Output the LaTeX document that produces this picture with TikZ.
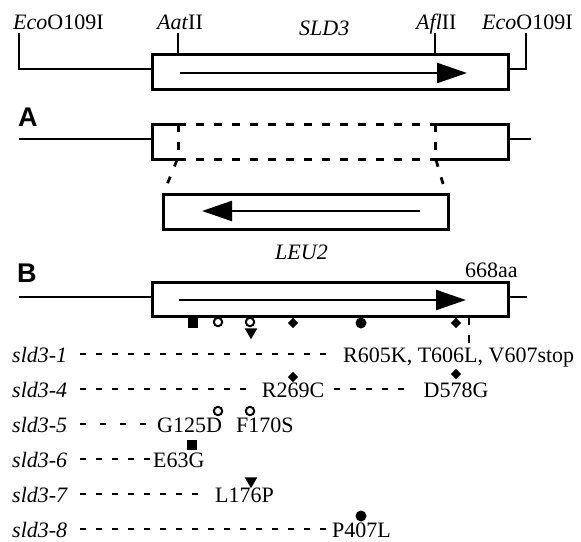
\documentclass[tikz,border=0pt]{standalone}
\usepackage{fontspec}
\setmainfont{Liberation Serif}
\newfontfamily\panelfont{Liberation Sans}
\usetikzlibrary{arrows.meta,shapes.geometric}
\begin{document}
\begin{tikzpicture}[x=1pt,y=-1pt,
  boxline/.style={line width=3pt, line join=miter},
  thinline/.style={line width=2.2pt},
  shaft/.style={line width=2.2pt, -{Triangle[length=30pt,width=20pt]}},
  rowdash/.style={line width=1.4pt, dash pattern=on 6pt off 10pt},
  boxdash/.style={line width=3pt, dash pattern=on 8pt off 10pt},
  lbl/.style={inner sep=0pt, anchor=base west, font=\fontsize{22}{26}\selectfont},
  clbl/.style={inner sep=0pt, anchor=base, font=\fontsize{22}{26}\selectfont},
  panel/.style={inner sep=0pt, anchor=base west, font=\panelfont\bfseries\fontsize{27}{30}\selectfont},
  sqmark/.style={rectangle, fill=black, inner sep=0pt, minimum size=10pt},
  ocirc/.style={circle, draw=black, line width=2pt, fill=white, inner sep=0pt, minimum size=8.4pt},
  fcirc/.style={circle, fill=black, inner sep=0pt, minimum size=11pt},
  dmark/.style={diamond, fill=black, inner sep=0pt, minimum width=10.5pt, minimum height=10.5pt},
  tmark/.style={regular polygon, regular polygon sides=3, shape border rotate=180, fill=black, inner sep=0pt, minimum size=14.5pt}
]
\useasboundingbox (0,0) rectangle (581,541);

% ---------- top: SLD3 locus ----------
\node[lbl] (ecoL) at (13,29) {\textit{Eco}O109I};
\node[lbl] (aat) at (157,29) {\textit{Aat}II};
\node[lbl] (sldlbl) at (299,35) {\textit{SLD3}};
\node[lbl] (afl) at (416,29) {\textit{Afl}II};
\node[lbl] (ecoR) at (482,29) {\textit{Eco}O109I};

\draw[thinline] (19,33) -- (19,69) -- (152,69);
\draw[thinline] (508,69) -- (526,69) -- (526,33);
\draw[thinline] (178,33) -- (178,54);
\draw[thinline] (435,33) -- (435,54);
\draw[boxline] (152,54) rectangle (508,89);
\coordinate (t1) at (180,73);
\coordinate (t2) at (467,73);
\draw[shaft] (t1) -- (t2);

% ---------- A: disruption ----------
\node[panel] (A) at (18,126) {A};
\draw[thinline] (19,139) -- (152,139);
\draw[thinline] (508,139) -- (531,139);
\draw[boxline] (178,124) -- (152,124) -- (152,159) -- (178,159);
\draw[boxline] (435,124) -- (508,124) -- (508,159) -- (435,159);
\draw[boxdash] (178,124) -- (435,124);
\draw[boxdash] (178,159) -- (435,159);
\draw[boxdash] (178,124) -- (178,159);
\draw[boxdash] (435,124) -- (435,159);
\draw[line width=2.8pt, dash pattern=on 7pt off 11pt] (177,160) -- (166,187);
\draw[line width=2.8pt, dash pattern=on 7pt off 11pt] (436,160) -- (444,187);

\draw[boxline] (163,194) rectangle (448,229);
\coordinate (l1) at (420,211);
\coordinate (l2) at (202,211);
\draw[shaft] (l1) -- (l2);
\node[lbl] (leu) at (275,259) {\textit{LEU2}};

% ---------- B: mutations ----------
\node[panel] (B) at (17,282) {B};
\node[lbl] (aa) at (465,277) {668aa};
\draw[thinline] (19,297) -- (152,297);
\draw[thinline] (508,297) -- (527,297);
\draw[boxline] (152,282) rectangle (508,316);
\coordinate (b1) at (179,300);
\coordinate (b2) at (466,300);
\draw[shaft] (b1) -- (b2);

\node[sqmark] (m1) at (193,323) {};
\node[ocirc] (m2) at (218,322) {};
\node[ocirc] (m3) at (250,322) {};
\node[tmark] (m4) at (251,332) {};
\node[dmark] (m5) at (293,323) {};
\node[fcirc] (m6) at (361,323) {};
\node[dmark] (m7) at (456,323) {};
\draw[line width=1.8pt, dash pattern=on 8pt off 10pt] (469,317) -- (469,345);

% rows
\node[lbl, font=\itshape\fontsize{22}{26}\selectfont] (r1) at (12,362) {sld3-1};
\node[lbl, font=\itshape\fontsize{22}{26}\selectfont] (r4) at (12,397) {sld3-4};
\node[lbl, font=\itshape\fontsize{22}{26}\selectfont] (r5) at (12,432) {sld3-5};
\node[lbl, font=\itshape\fontsize{22}{26}\selectfont] (r6) at (12,467) {sld3-6};
\node[lbl, font=\itshape\fontsize{22}{26}\selectfont] (r7) at (12,502) {sld3-7};
\node[lbl, font=\itshape\fontsize{22}{26}\selectfont] (r8) at (12,537) {sld3-8};

% sld3-1
\draw[rowdash] (80,354) -- (328,354);
\node[lbl] (t11) at (343,362) {R605K, T606L, V607stop};
% sld3-4
\draw[rowdash] (80,389) -- (247,389);
\node[clbl] (t41) at (293,397) {R269C};
\draw[rowdash] (334,389) -- (410,389);
\node[clbl] (t42) at (456,397) {D578G};
\node[dmark] (d41) at (293,377) {};
\node[dmark] (d42) at (456,374) {};
% sld3-5
\draw[rowdash, dash pattern=on 6pt off 14pt] (80,424) -- (147,424);
\node[lbl] (t51) at (157,432) {G125D};
\node[lbl] (t52) at (236,432) {F170S};
\node[ocirc] (c51) at (218,411) {};
\node[ocirc] (c52) at (250,411) {};
% sld3-6
\draw[rowdash] (80,459) -- (152,459);
\node[lbl] (t61) at (153,467) {E63G};
\node[sqmark] (s61) at (192,445) {};
% sld3-7
\draw[rowdash] (80,494) -- (203,494);
\node[lbl] (t71) at (215,502) {L176P};
\node[tmark] (tr71) at (251,481) {};
% sld3-8
\draw[rowdash] (80,529) -- (326,529);
\node[lbl] (t81) at (332,537) {P407L};
\node[fcirc] (f81) at (361,516) {};
\end{tikzpicture}
\end{document}
